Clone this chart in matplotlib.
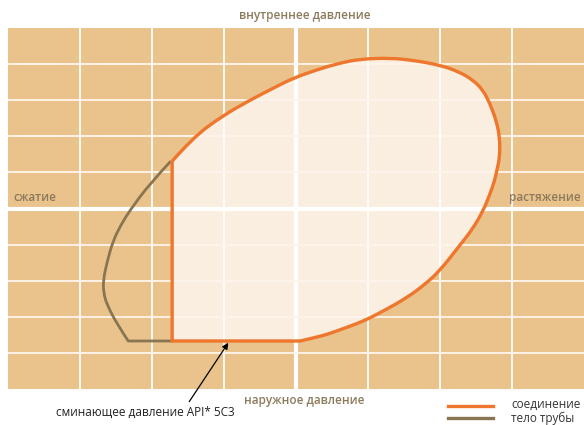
import numpy as np
import matplotlib.pyplot as plt
from matplotlib.path import Path
from matplotlib.patches import PathPatch

# connection envelope (orange): curved part from the upper-left corner round to the collapse line
conn_x = [-1.72, -1.43, -1.01, -0.64, -0.30, -0.04, 0.30, 0.61, 0.89, 1.31, 1.65, 2.00,
          2.25, 2.46, 2.60, 2.69, 2.78, 2.83, 2.83, 2.79, 2.76, 2.69, 2.60, 2.45, 2.25,
          2.00, 1.78, 1.54, 1.25, 1.00, 0.82, 0.61, 0.43, 0.25, 0.06]
conn_y = [1.31, 1.97, 2.58, 3.00, 3.35, 3.61, 3.85, 4.03, 4.14, 4.17, 4.10, 3.97,
          3.80, 3.56, 3.27, 2.92, 2.45, 1.97, 1.42, 1.06, 0.78, 0.38, -0.06, -0.58, -1.08,
          -1.72, -2.12, -2.47, -2.80, -3.06, -3.21, -3.36, -3.49, -3.58, -3.67]
collapse_y = -3.67
wall_x = -1.72

# pipe body envelope (brown), only the part outside the connection
body_x = [-1.74, -2.03, -2.31, -2.43, -2.54, -2.62, -2.68, -2.67, -2.63, -2.49, -2.33]
body_y = [1.31, 0.69, -0.06, -0.45, -0.89, -1.45, -2.00, -2.35, -2.64, -3.19, -3.67]

bg = '#e9c38b'
fill = '#faeee0'
orange = '#ee762d'
brown = '#8a7552'
label_col = '#8c7a5c'


def smooth_verts(xs, ys):
    # quadratic bezier through midpoints, using the read points as control points
    pts = list(zip(xs, ys))
    verts = [pts[0]]
    codes = [Path.MOVETO]
    for i in range(1, len(pts) - 1):
        mid = ((pts[i][0] + pts[i + 1][0]) / 2, (pts[i][1] + pts[i + 1][1]) / 2)
        if i == len(pts) - 2:
            mid = pts[-1]
        verts += [pts[i], mid]
        codes += [Path.CURVE3, Path.CURVE3]
    return verts, codes


fig = plt.figure(figsize=(5.84, 4.25), dpi=100)
ax = fig.add_axes([8 / 584, 36 / 425, 576 / 584, 361 / 425])
ax.set_xlim(-4, 4)
ax.set_ylim(-5, 5)
ax.set_facecolor(bg)
for s in ax.spines.values():
    s.set_visible(False)
ax.set_xticks([])
ax.set_yticks([])

cv, cc = smooth_verts(conn_x, conn_y)
cv += [(wall_x, collapse_y), (wall_x, conn_y[0]), (wall_x, conn_y[0])]
cc += [Path.LINETO, Path.LINETO, Path.CLOSEPOLY]
conn_path = Path(cv, cc)
ax.add_patch(PathPatch(conn_path, facecolor=fill, edgecolor='none', zorder=1))

for gx in range(-3, 4):
    ax.axvline(gx, color='white', lw=3 if gx == 0 else 1.3, zorder=2)
for gy in range(-4, 5):
    ax.axhline(gy, color='#fdf5ec' if gy else 'white', lw=3 if gy == 0 else 1.3, zorder=2)

bv, bc = smooth_verts(body_x, body_y)
bv.append((wall_x, collapse_y))
bc.append(Path.LINETO)
ax.add_patch(PathPatch(Path(bv, bc), facecolor='none', edgecolor=brown, lw=2,
                       joinstyle='round', zorder=3))
ax.add_patch(PathPatch(conn_path, facecolor='none', edgecolor=orange, lw=2.4,
                       joinstyle='miter', zorder=4))

font = dict(family='Open Sans', fontsize=8.5)
ax.text(0.12, 5.35, 'внутреннее давление', color=label_col, ha='center', va='center',
        fontweight='semibold', **font)
ax.text(0.12, -5.33, 'наружное давление', color=label_col, ha='center', va='center',
        fontweight='semibold', **font)
ax.text(-3.92, 0.12, 'сжатие', color=label_col, ha='left', va='bottom',
        fontweight='semibold', **font)
ax.text(3.95, 0.12, 'растяжение', color=label_col, ha='right', va='bottom',
        fontweight='semibold', **font)

ax.annotate('сминающее давление API* 5C3', xy=(-0.94, -3.72), xytext=(-2.09, -5.64),
            ha='center', va='center', color='#222222', annotation_clip=False,
            arrowprops=dict(arrowstyle='-|>', color='black', lw=0.9, mutation_scale=9,
                            shrinkA=1, shrinkB=0, relpos=(0.73, 1.0)), **font)

# legend drawn by hand below the plot area
fig.text(511 / 584, 1 - 404 / 425, 'соединение', color='#333333', ha='left', va='center', **font)
fig.text(511 / 584, 1 - 418 / 425, 'тело трубы', color='#333333', ha='left', va='center', **font)
fig.add_artist(plt.Line2D([448 / 584, 493 / 584], [1 - 405.5 / 425] * 2, color=orange, lw=2.4))
fig.add_artist(plt.Line2D([448 / 584, 493 / 584], [1 - 417.5 / 425] * 2, color=brown, lw=2.4))

fig.savefig('out.png', dpi=100)
